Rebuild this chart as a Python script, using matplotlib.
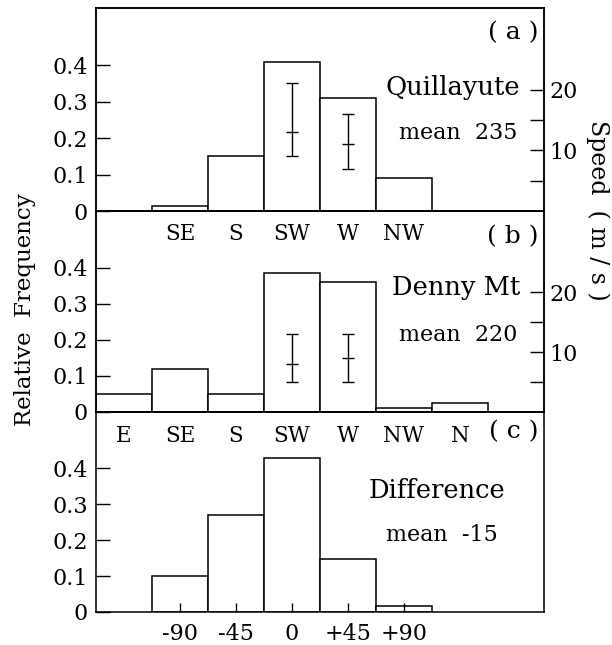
import matplotlib
matplotlib.use('Agg')
import matplotlib.pyplot as plt

plt.rcParams['font.family'] = ['DejaVu Serif']

# direction bins (degrees) and labels
dirs = [90, 135, 180, 225, 270, 315, 360]
dir_labels = ['E', 'SE', 'S', 'SW', 'W', 'NW', 'N']

# (a) Quillayute
dirs_a = [135, 180, 225, 270, 315]
freq_a = [0.015, 0.15, 0.41, 0.31, 0.09]
# (b) Denny Mt
freq_b = [0.05, 0.12, 0.05, 0.385, 0.36, 0.012, 0.024]
# wind speed bars (SW, W)
spd_dirs = [225, 270]
spd_a_mid = [13.0, 11.0]
spd_a_lo = [9.0, 7.0]
spd_a_hi = [21.2, 16.0]
spd_b_mid = [8.0, 9.0]
spd_b_lo = [5.0, 5.0]
spd_b_hi = [13.0, 13.0]
# (c) difference
diff = [-90, -45, 0, 45, 90]
diff_labels = ['-90', '-45', '0', '+45', '+90']
freq_c = [0.10, 0.27, 0.43, 0.148, 0.018]

freq_ticks = [0, 0.1, 0.2, 0.3, 0.4]
freq_ticklabels = ['0', '0.1', '0.2', '0.3', '0.4']

fig = plt.figure(figsize=(6.12, 6.45), dpi=100)
L, W = 96/612, 448/612
ax_a = fig.add_axes([L, 1-211/645, W, 203/645])
ax_b = fig.add_axes([L, 1-412/645, W, 201/645])
ax_c = fig.add_axes([L, 1-612/645, W, 200/645])
for ax in (ax_a, ax_b, ax_c):
    ax.patch.set_visible(False)

YTOP = 0.557
STOP = 33.5
bar_kw = dict(width=45, facecolor='white', edgecolor='black', linewidth=1.1)

def freq_axis(ax):
    ax.set_ylim(0, YTOP)
    ax.set_yticks(freq_ticks)
    ax.set_yticklabels(freq_ticklabels)
    ax.tick_params(axis='y', direction='in', length=10, width=1, pad=6,
                   labelsize=16, right=False)
    for s in ax.spines.values():
        s.set_linewidth(1.1)

def speed_axis(ax, mid, lo, hi):
    ax2 = ax.twinx()
    ax2.set_ylim(0, STOP)
    ax2.set_yticks([5, 10, 15, 20])
    ax2.set_yticklabels(['', '10', '', '20'])
    ax2.tick_params(axis='y', direction='in', length=10, width=1, pad=4, labelsize=16)
    yerr = [[m - l for m, l in zip(mid, lo)], [h - m for m, h in zip(mid, hi)]]
    ax2.errorbar(spd_dirs, mid, yerr=yerr, fmt='_', color='black', ms=8,
                 mew=1, elinewidth=1, capsize=4, capthick=1)
    for s in ax2.spines.values():
        s.set_linewidth(1.1)
    return ax2

# panel a
ax_a.bar(dirs_a, freq_a, **bar_kw)
ax_a.set_xlim(67.5, 427.5)
freq_axis(ax_a)
ax_a.set_xticks(dirs_a)
ax_a.set_xticklabels(['SE', 'S', 'SW', 'W', 'NW'])
ax_a.tick_params(axis='x', length=0, pad=9, labelsize=15.5)
speed_axis(ax_a, spd_a_mid, spd_a_lo, spd_a_hi)
ax_a.text(0.987, 0.877, '( a )', transform=ax_a.transAxes, ha='right', va='center', fontsize=18)
ax_a.text(0.946, 0.608, 'Quillayute', transform=ax_a.transAxes, ha='right', va='center', fontsize=18.5)
ax_a.text(0.94, 0.384, 'mean  235', transform=ax_a.transAxes, ha='right', va='center', fontsize=16)

# panel b
ax_b.bar(dirs, freq_b, **bar_kw)
ax_b.set_xlim(67.5, 427.5)
freq_axis(ax_b)
ax_b.set_xticks(dirs)
ax_b.set_xticklabels(dir_labels)
ax_b.tick_params(axis='x', length=0, pad=9, labelsize=15.5)
speed_axis(ax_b, spd_b_mid, spd_b_lo, spd_b_hi)
ax_b.text(0.987, 0.871, '( b )', transform=ax_b.transAxes, ha='right', va='center', fontsize=18)
ax_b.text(0.946, 0.617, 'Denny Mt', transform=ax_b.transAxes, ha='right', va='center', fontsize=18.5)
ax_b.text(0.94, 0.383, 'mean  220', transform=ax_b.transAxes, ha='right', va='center', fontsize=16)

# panel c
ax_c.bar(diff, freq_c, **bar_kw)
ax_c.set_xlim(-157.5, 202.5)
freq_axis(ax_c)
ax_c.set_xticks(diff)
ax_c.set_xticklabels(diff_labels)
ax_c.tick_params(axis='x', direction='in', length=6.5, width=1, pad=8, labelsize=16)
ax_c.text(0.987, 0.9, '( c )', transform=ax_c.transAxes, ha='right', va='center', fontsize=18)
ax_c.text(0.762, 0.61, 'Difference', transform=ax_c.transAxes, ha='center', va='center', fontsize=18.5)
ax_c.text(0.772, 0.385, 'mean  -15', transform=ax_c.transAxes, ha='center', va='center', fontsize=16)

fig.text(25/612, 1-310/645, 'Relative  Frequency', rotation=90, ha='center', va='center', fontsize=16.5)
fig.text(598/612, 1-210/645, 'Speed  ( m / s )', rotation=270, ha='center', va='center', fontsize=17)

fig.savefig('out.png', dpi=100)
